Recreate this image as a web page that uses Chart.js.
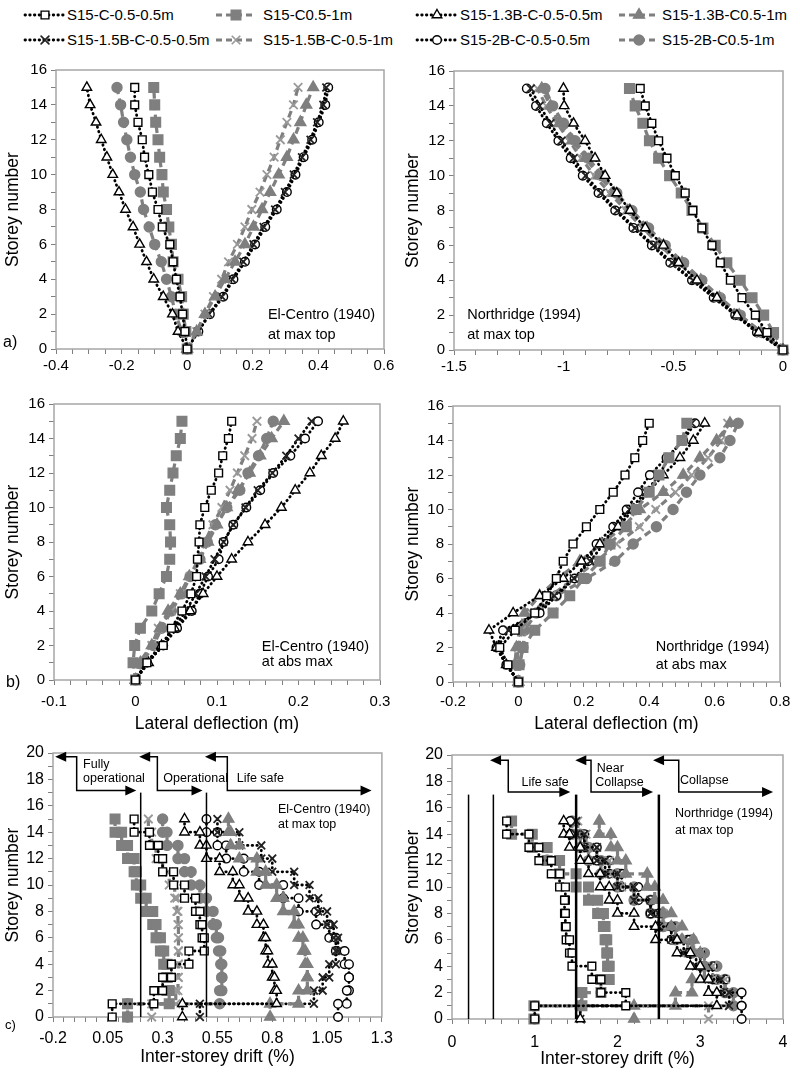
<!DOCTYPE html>
<html><head><meta charset="utf-8">
<script src="https://cdn.jsdelivr.net/npm/chart.js@4.4.1/dist/chart.umd.min.js"></script>
<style>
html,body{margin:0;padding:0;background:#fff;}
body{width:800px;height:1084px;position:relative;overflow:hidden;font-family:'Liberation Sans',Arial,sans-serif;}
canvas.pnl{position:absolute;}
.lgt{position:absolute;font-size:15px;color:#000;line-height:18px;white-space:nowrap;}
canvas.ic{position:absolute;}
</style></head><body>
<script>
// ---------- DATA ----------
const seriesNames = ['S15-C-0.5-0.5m','S15-C0.5-1m','S15-1.3B-C-0.5-0.5m','S15-1.3B-C0.5-1m',
                     'S15-1.5B-C-0.5-0.5m','S15-1.5B-C-0.5-1m','S15-2B-C-0.5-0.5m','S15-2B-C0.5-1m'];
const storeys = [0,1,2,3,4,5,6,7,8,9,10,11,12,13,14,15];
const driftStoreys = [1,2,3,4,5,6,7,8,9,10,11,12,13,14,15];

// a) El-Centro (1940) lateral deflection at max top (m), storey 0..15
const ecTop1 = [0,-0.007,-0.014,-0.022,-0.033,-0.043,-0.053,-0.076,-0.089,-0.106,-0.117,-0.130,-0.137,-0.150,-0.160,-0.160];
const ecTop2 = [0,-0.004,-0.012,-0.017,-0.028,-0.043,-0.048,-0.056,-0.063,-0.073,-0.077,-0.084,-0.089,-0.096,-0.099,-0.102];
const ecTop3 = [0,-0.028,-0.045,-0.073,-0.102,-0.124,-0.145,-0.165,-0.188,-0.208,-0.227,-0.245,-0.262,-0.278,-0.296,-0.306];
const ecTop4 = [0,0.029,0.054,0.085,0.115,0.146,0.176,0.202,0.228,0.253,0.279,0.304,0.324,0.345,0.363,0.384];
const ecTop5 = [0,0.033,0.066,0.106,0.137,0.171,0.202,0.233,0.268,0.298,0.325,0.350,0.376,0.396,0.415,0.424];
const ecTop6 = [0,0.029,0.054,0.080,0.105,0.126,0.153,0.176,0.197,0.222,0.243,0.265,0.284,0.304,0.324,0.338];
const ecTop7 = [0,0.034,0.069,0.110,0.141,0.176,0.207,0.238,0.273,0.304,0.330,0.355,0.381,0.401,0.421,0.430];
const ecTop8 = [0,-0.017,-0.035,-0.048,-0.063,-0.079,-0.099,-0.116,-0.133,-0.143,-0.160,-0.173,-0.184,-0.194,-0.203,-0.214];

// a) Northridge (1994) lateral deflection at max top (m)
const nrTop1 = [0,-0.073,-0.126,-0.187,-0.240,-0.286,-0.324,-0.370,-0.411,-0.446,-0.491,-0.529,-0.567,-0.598,-0.628,-0.651];
const nrTop2 = [0,-0.043,-0.088,-0.141,-0.195,-0.256,-0.309,-0.365,-0.415,-0.464,-0.517,-0.567,-0.609,-0.639,-0.674,-0.700];
const nrTop3 = [0,-0.111,-0.210,-0.301,-0.392,-0.476,-0.545,-0.628,-0.697,-0.758,-0.811,-0.857,-0.902,-0.955,-0.998,-1.001];
const nrTop4 = [0,-0.100,-0.200,-0.290,-0.375,-0.460,-0.545,-0.620,-0.700,-0.770,-0.840,-0.900,-0.960,-1.020,-1.060,-1.100];
const nrTop5 = [0,-0.110,-0.210,-0.310,-0.410,-0.505,-0.590,-0.675,-0.755,-0.830,-0.900,-0.955,-1.010,-1.060,-1.110,-1.150];
const nrTop6 = [0,-0.105,-0.205,-0.295,-0.385,-0.475,-0.560,-0.640,-0.715,-0.790,-0.860,-0.920,-0.975,-1.030,-1.080,-1.120];
const nrTop7 = [0,-0.119,-0.218,-0.316,-0.415,-0.514,-0.598,-0.682,-0.765,-0.841,-0.913,-0.968,-1.024,-1.077,-1.126,-1.168];
const nrTop8 = [0,-0.096,-0.195,-0.286,-0.370,-0.453,-0.537,-0.613,-0.689,-0.758,-0.826,-0.887,-0.948,-1.001,-1.050,-1.085];

// b) El-Centro (1940) lateral deflection at abs max (m)
const ecAbs1 = [0,0.014,0.034,0.044,0.057,0.068,0.075,0.076,0.078,0.079,0.085,0.093,0.102,0.107,0.114,0.118];
const ecAbs2 = [0,-0.003,-0.001,0.006,0.020,0.029,0.038,0.042,0.043,0.042,0.038,0.042,0.046,0.050,0.055,0.057];
const ecAbs3 = [0,0.016,0.032,0.048,0.067,0.083,0.100,0.118,0.138,0.159,0.179,0.196,0.214,0.228,0.245,0.255];
const ecAbs4 = [0,0.006,0.020,0.030,0.040,0.055,0.066,0.079,0.089,0.100,0.112,0.126,0.140,0.153,0.167,0.182];
const ecAbs5 = [0,0.013,0.031,0.046,0.062,0.074,0.086,0.097,0.108,0.120,0.135,0.150,0.168,0.185,0.200,0.216];
const ecAbs6 = [0,0.004,0.020,0.028,0.044,0.055,0.067,0.077,0.085,0.095,0.106,0.116,0.125,0.134,0.143,0.149];
const ecAbs7 = [0,0.014,0.034,0.051,0.069,0.079,0.089,0.102,0.108,0.120,0.136,0.153,0.169,0.190,0.208,0.224];
const ecAbs8 = [0,0.008,0.022,0.032,0.044,0.057,0.067,0.079,0.088,0.098,0.112,0.128,0.138,0.151,0.161,0.169];

// b) Northridge (1994) lateral deflection at abs max (m)
const nrAbs1 = [0,-0.032,-0.057,-0.010,0.050,0.086,0.116,0.137,0.167,0.208,0.249,0.290,0.326,0.356,0.380,0.400];
const nrAbs2 = [0,0.002,0.014,0.050,0.106,0.157,0.200,0.250,0.280,0.330,0.360,0.400,0.430,0.460,0.500,0.515];
const nrAbs3 = [0,-0.037,-0.067,-0.090,-0.016,0.065,0.137,0.193,0.249,0.305,0.351,0.397,0.443,0.494,0.535,0.570];
const nrAbs4 = [0,-0.011,-0.006,0.004,0.019,0.065,0.121,0.188,0.254,0.320,0.371,0.443,0.504,0.555,0.606,0.647];
const nrAbs5 = [0,-0.035,-0.065,-0.030,0.050,0.110,0.170,0.220,0.260,0.300,0.340,0.390,0.430,0.460,0.500,0.530];
const nrAbs6 = [0,-0.005,0.000,0.010,0.040,0.100,0.170,0.240,0.300,0.370,0.420,0.480,0.530,0.580,0.620,0.640];
const nrAbs7 = [0,-0.037,-0.067,-0.047,0.065,0.116,0.172,0.213,0.239,0.290,0.331,0.366,0.402,0.453,0.504,0.540];
const nrAbs8 = [0,0.004,0.014,0.019,0.055,0.116,0.208,0.295,0.351,0.422,0.473,0.514,0.555,0.616,0.647,0.672];

// c) El-Centro (1940) inter-storey drift at max top (%), storey 1..15
const ecDrift1 = [0.07,0.26,0.30,0.34,0.42,0.49,0.48,0.47,0.45,0.40,0.35,0.30,0.28,0.24,0.17];
const ecDrift2 = [0.14,0.33,0.32,0.32,0.305,0.29,0.27,0.255,0.225,0.20,0.18,0.17,0.14,0.113,0.083];
const ecDrift3 = [0.39,0.82,0.81,0.80,0.78,0.77,0.76,0.73,0.69,0.65,0.62,0.56,0.50,0.47,0.40];
const ecDrift4 = [0.79,0.92,0.96,0.96,0.95,0.94,0.92,0.90,0.85,0.82,0.77,0.73,0.65,0.61,0.60];
const ecDrift5 = [0.47,0.99,1.03,1.06,1.09,1.10,1.08,1.05,1.01,0.97,0.90,0.80,0.75,0.65,0.55];
const ecDrift6 = [0.25,0.36,0.37,0.372,0.372,0.372,0.372,0.37,0.365,0.355,0.33,0.30,0.27,0.25,0.235];
const ecDrift7 = [1.10,1.14,1.15,1.15,1.13,1.09,1.06,1.00,0.92,0.85,0.74,0.67,0.59,0.55,0.50];
const ecDrift8 = [0.14,0.56,0.57,0.57,0.565,0.555,0.545,0.53,0.50,0.47,0.43,0.40,0.37,0.32,0.30];

// c) Northridge (1994) inter-storey drift at max top (%)
const nrDrift1 = [1.00,2.10,1.80,1.69,1.45,1.42,1.38,1.37,1.36,1.37,1.30,1.20,1.05,0.93,0.66];
const nrDrift2 = [0.99,1.57,1.80,1.90,1.88,1.87,1.85,1.83,1.76,1.65,1.50,1.30,1.15,0.97,0.72];
const nrDrift3 = [1.55,3.20,3.10,3.00,2.88,2.72,2.46,2.20,2.00,1.90,1.79,1.65,1.55,1.42,1.35];
const nrDrift4 = [2.20,2.70,2.90,3.05,3.00,2.92,2.78,2.65,2.55,2.45,2.36,2.10,2.00,1.92,1.78];
const nrDrift5 = [1.55,3.35,3.25,3.10,2.95,2.80,2.65,2.50,2.40,2.20,2.00,1.85,1.75,1.60,1.50];
const nrDrift6 = [3.10,3.35,3.30,3.15,3.00,2.85,2.70,2.55,2.40,2.20,2.05,1.90,1.75,1.62,1.52];
const nrDrift7 = [3.50,3.50,3.30,3.15,3.00,2.85,2.65,2.50,2.40,2.25,2.05,1.90,1.75,1.60,1.43];
const nrDrift8 = [1.00,3.40,3.30,3.20,3.05,2.90,2.70,2.55,2.40,2.20,2.00,1.80,1.65,1.55,1.45];

// tick labels
const ecTopXTicks = [-0.4,-0.2,0,0.2,0.4,0.6];
const nrTopXTicks = [-1.5,-1,-0.5,0];
const ecAbsXTicks = [-0.1,0,0.1,0.2,0.3];
const nrAbsXTicks = [-0.2,0,0.2,0.4,0.6,0.8];
const ecDriftXTicks = [-0.2,0.05,0.3,0.55,0.8,1.05,1.3];
const nrDriftXTicks = [0,1,2,3,4];
const storeyTicks16 = [0,2,4,6,8,10,12,14,16];
const storeyTicks20 = [0,2,4,6,8,10,12,14,16,18,20];

// performance limits (drift %)
const ecLimits = [0.2,0.5];
const nrLimits = [0.2,0.5,1.5,2.5];

// ---------- STYLES ----------
const GREY = '#7f7f7f';
const styles = [
  {ps:'rect',     r:5.5, bg:'#fff', bc:'#000', dot:true},
  {ps:'rect',     r:6.8, bg:GREY,   bc:GREY,   dot:false},
  {ps:'triangle', r:5.5, bg:'#fff', bc:'#000', dot:true},
  {ps:'triangle', r:6.3, bg:GREY,   bc:GREY,   dot:false},
  {ps:'crossRot', r:5.5, bg:'#222', bc:'#222', dot:true},
  {ps:'crossRot', r:6,   bg:'#999', bc:'#999', dot:false},
  {ps:'circle',   r:4.3, bg:'#fff', bc:'#000', dot:true},
  {ps:'circle',   r:5,   bg:GREY,   bc:GREY,   dot:false}
];
const FONT = "'Liberation Sans', Arial, sans-serif";
const DOT = {w:2.8, dash:[0.5,4.2], col:'#000'};
const DASH = {w:3.2, dash:[7,4.5], col:GREY};

// ---------- LEGEND ----------
const legIconX = [23,214,415,617], legTextX = [67,263,460,662], legRowY = [15,40];
function drawMarker(c, st, x, y){
  c.save(); c.fillStyle = st.bg; c.strokeStyle = st.bc; c.lineWidth = 1.4; c.setLineDash([]);
  const r = st.r;
  c.beginPath();
  if (st.ps==='rect'){ const s=Math.SQRT1_2*r; c.rect(x-s,y-s,2*s,2*s); c.fill(); c.stroke(); }
  else if (st.ps==='triangle'){ c.moveTo(x, y-r); c.lineTo(x+r*0.87, y+r*0.5); c.lineTo(x-r*0.87,y+r*0.5); c.closePath(); c.fill(); c.stroke(); }
  else if (st.ps==='circle'){ c.arc(x,y,r,0,Math.PI*2); c.fill(); c.stroke(); }
  else { const s=Math.SQRT1_2*r; c.lineWidth=1.7; c.moveTo(x-s,y-s); c.lineTo(x+s,y+s); c.moveTo(x+s,y-s); c.lineTo(x-s,y+s); c.stroke(); }
  c.restore();
}
seriesNames.forEach((name,i)=>{
  const col = i%4, row = Math.floor(i/4), st = styles[i], ln = st.dot ? DOT : DASH;
  const cv = document.createElement('canvas'); cv.className='ic'; cv.width=44; cv.height=16;
  cv.style.left = legIconX[col]+'px'; cv.style.top = (legRowY[row]-8)+'px';
  document.body.appendChild(cv);
  const c = cv.getContext('2d');
  c.strokeStyle = ln.col; c.lineWidth = ln.w;
  c.setLineDash(st.dot ? [0.5,4.2] : [6,4]); c.lineCap = st.dot ? 'round' : 'butt';
  c.beginPath(); c.moveTo(2,8); c.lineTo(42,8); c.stroke();
  drawMarker(c, st, 22, 8);
  const t = document.createElement('div'); t.className='lgt'; t.textContent = name;
  t.style.left = legTextX[col]+'px'; t.style.top = (legRowY[row]-9)+'px';
  document.body.appendChild(t);
});

// ---------- PANELS ----------
function profilePts(arr){ return storeys.map((s,i)=>({x:arr[i], y:s})); }
function driftPts(arr){ const p=[]; for(let i=arr.length-1;i>=0;i--){ const s=driftStoreys[i]; p.push({x:arr[i],y:s}); p.push({x:arr[i],y:s-1}); } return p; }

const panels = [
  {left:0,   top:50,  w:400, h:329, yw:56, pt:20, pr:16, xh:30, xPad:3,
   x:{min:-0.4,max:0.6,minor:0.05,labels:ecTopXTicks}, y:{min:0,max:16,minor:1,labels:storeyTicks16},
   series:[ecTop1,ecTop2,ecTop3,ecTop4,ecTop5,ecTop6,ecTop7,ecTop8], drift:false, xTitle:null, tickFont:15,
   tag:{t:'a)',x:3,y:293,f:16},
   texts:[{x:0.246,y:1.95,t:'El-Centro (1940)',f:14.5},{x:0.246,y:0.8,t:'at max top',f:14.5}]},
  {left:400, top:50,  w:400, h:330, yw:54, pt:21, pr:17, xh:30, xPad:3,
   x:{min:-1.5,max:0,minor:0.1,labels:nrTopXTicks}, y:{min:0,max:16,minor:1,labels:storeyTicks16},
   series:[nrTop1,nrTop2,nrTop3,nrTop4,nrTop5,nrTop6,nrTop7,nrTop8], drift:false, xTitle:null, tickFont:15,
   texts:[{x:-1.44,y:2.0,t:'Northridge (1994)',f:14.5},{x:-1.44,y:0.86,t:'at max top',f:14.5}]},
  {left:0,   top:380, w:400, h:359, yw:54, pt:24, pr:20, xh:59, xPad:8,
   x:{min:-0.1,max:0.3,minor:0.02,labels:ecAbsXTicks}, y:{min:0,max:16,minor:1,labels:storeyTicks16},
   series:[ecAbs1,ecAbs2,ecAbs3,ecAbs4,ecAbs5,ecAbs6,ecAbs7,ecAbs8], drift:false, xTitle:'Lateral deflection (m)', tickFont:15,
   tag:{t:'b)',x:6,y:303,f:16},
   texts:[{x:0.155,y:1.9,t:'El-Centro (1940)',f:14.5},{x:0.155,y:1.05,t:'at abs max',f:14.5}]},
  {left:400, top:380, w:400, h:359, yw:53, pt:26, pr:20, xh:57, xPad:6,
   x:{min:-0.2,max:0.8,minor:0.04,labels:nrAbsXTicks}, y:{min:0,max:16,minor:1,labels:storeyTicks16},
   series:[nrAbs1,nrAbs2,nrAbs3,nrAbs4,nrAbs5,nrAbs6,nrAbs7,nrAbs8], drift:false, xTitle:'Lateral deflection (m)', tickFont:15,
   texts:[{x:0.42,y:2.03,t:'Northridge (1994)',f:14.5},{x:0.42,y:0.99,t:'at abs max',f:14.5}]},
  {left:0,   top:735, w:400, h:337, yw:53, pt:18, pr:18, xh:55, xPad:7,
   x:{min:-0.2,max:1.3,minor:0.05,labels:ecDriftXTicks}, y:{min:0,max:20,minor:1,labels:storeyTicks20},
   series:[ecDrift1,ecDrift2,ecDrift3,ecDrift4,ecDrift5,ecDrift6,ecDrift7,ecDrift8], drift:true, xTitle:'Inter-storey drift (%)', tickFont:16,
   tag:{t:'c)',x:5,y:290,f:13},
   vlines:[{x:ecLimits[0],y1:17,w:1.5},{x:ecLimits[1],y1:17,w:1.5}],
   arrows:[{xl:-0.19,xv:-0.092,xr:0.18,yt:19.72,yb:17.15},{xl:0.193,xv:0.276,xr:0.482,yt:19.72,yb:17.15},{xl:0.493,xv:0.595,xr:1.253,yt:19.72,yb:17.15}],
   texts:[{x:-0.063,y:19.09,t:'Fully',f:12.5},{x:-0.063,y:18.08,t:'operational',f:12.5},
          {x:0.303,y:18.08,t:'Operational',f:12.5},{x:0.638,y:18.08,t:'Life safe',f:12.5},
          {x:0.826,y:15.68,t:'El-Centro (1940)',f:12.5},{x:0.826,y:14.55,t:'at max top',f:12.5}]},
  {left:400, top:735, w:400, h:339, yw:52, pt:20, pr:17, xh:55, xPad:9,
   x:{min:0,max:4,minor:0.2,labels:nrDriftXTicks}, y:{min:0,max:20,minor:1,labels:storeyTicks20},
   series:[nrDrift1,nrDrift2,nrDrift3,nrDrift4,nrDrift5,nrDrift6,nrDrift7,nrDrift8], drift:true, xTitle:'Inter-storey drift (%)', tickFont:16,
   vlines:[{x:nrLimits[0],y1:17,w:1.5},{x:nrLimits[1],y1:17,w:1.5},{x:nrLimits[2],y1:17,w:2.5},{x:nrLimits[3],y1:17,w:2.5}],
   arrows:[{xl:0.46,xv:0.68,xr:1.43,yt:19.6,yb:17.2},{xl:1.49,xv:1.68,xr:2.43,yt:19.6,yb:17.2},{xl:2.43,xv:2.74,xr:3.88,yt:19.6,yb:17.2}],
   texts:[{x:0.84,y:17.9,t:'Life safe',f:12.5},{x:1.75,y:19.0,t:'Near',f:12.5},{x:1.73,y:17.9,t:'Collapse',f:12.5},
          {x:2.755,y:18.1,t:'Collapse',f:12.5},{x:2.695,y:15.55,t:'Northridge (1994)',f:12.5},{x:2.695,y:14.24,t:'at max top',f:12.5}]}
];

function axisOpts(cfg, pos, P){
  const isY = pos==='left';
  const o = {
    type:'linear', position:pos, min:cfg.min, max:cfg.max,
    afterBuildTicks: sc => { const n=Math.round((cfg.max-cfg.min)/cfg.minor); const t=[];
      for(let i=0;i<=n;i++) t.push({value:+(cfg.min+i*cfg.minor).toFixed(6)}); sc.ticks=t; },
    afterFit: sc => { if (isY) sc.width = P.yw; else sc.height = P.xh; },
    ticks:{autoSkip:false, maxRotation:0, minRotation:0, color:'#000',
      padding: isY ? 4 : P.xPad, font:{family:FONT,size:P.tickFont},
      callback: v => { const m = cfg.labels.find(l=>Math.abs(l-v)<1e-6); return m===undefined ? '' : String(m); }},
    grid:{display:true, drawOnChartArea:false, drawTicks:true, tickLength:5, tickColor:'#7f7f7f', tickWidth:1},
    border:{display:false}
  };
  if (isY) o.title = {display:true, text:'Storey number', color:'#000', font:{family:FONT,size:17.5}, padding:{top:3,bottom:0}};
  else if (P.xTitle) o.title = {display:true, text:P.xTitle, color:'#000', font:{family:FONT,size:17.5}, padding:{top:0,bottom:4}};
  return o;
}

function arrowHead(ctx, x, y, dir){
  ctx.beginPath(); ctx.moveTo(x,y); ctx.lineTo(x-dir*11, y-5); ctx.lineTo(x-dir*11, y+5); ctx.closePath(); ctx.fill();
}

panels.forEach((P, pi)=>{
  const cv = document.createElement('canvas'); cv.className='pnl';
  cv.width = P.w; cv.height = P.h; cv.style.left = P.left+'px'; cv.style.top = P.top+'px';
  cv.style.width = P.w+'px'; cv.style.height = P.h+'px';
  document.body.appendChild(cv);
  const datasets = P.series.map((arr,i)=>{ const st = styles[i], ln = st.dot ? DOT : DASH; return {
    label: seriesNames[i], data: P.drift ? driftPts(arr) : profilePts(arr), showLine:true,
    borderColor: ln.col, borderWidth: ln.w, borderDash: ln.dash, borderCapStyle: st.dot ? 'round' : 'butt',
    pointStyle: st.ps, pointRadius: st.r, pointBackgroundColor: st.bg, pointBorderColor: st.bc,
    pointBorderWidth: st.ps==='crossRot' ? 1.8 : 1.4, clip:false, fill:false, tension:0 }; });
  const notes = {
    id:'notes'+pi,
    beforeDatasetsDraw(chart){ const {ctx, chartArea:a} = chart; ctx.save(); ctx.strokeStyle='#a6a6a6'; ctx.lineWidth=1.5;
      ctx.strokeRect(a.left, a.top, a.right-a.left, a.bottom-a.top); ctx.restore(); },
    afterDatasetsDraw(chart){
      const {ctx} = chart, xs = chart.scales.x, ys = chart.scales.y;
      ctx.save(); ctx.fillStyle='#000'; ctx.strokeStyle='#000';
      (P.vlines||[]).forEach(v=>{ ctx.lineWidth=v.w; ctx.beginPath(); const px=xs.getPixelForValue(v.x);
        ctx.moveTo(px, ys.getPixelForValue(0)); ctx.lineTo(px, ys.getPixelForValue(v.y1)); ctx.stroke(); });
      (P.arrows||[]).forEach(a=>{ ctx.lineWidth=1.5; const xl=xs.getPixelForValue(a.xl), xv=xs.getPixelForValue(a.xv), xr=xs.getPixelForValue(a.xr);
        const yt=ys.getPixelForValue(a.yt), yb=ys.getPixelForValue(a.yb);
        ctx.beginPath(); ctx.moveTo(xl+8,yt); ctx.lineTo(xv,yt); ctx.lineTo(xv,yb); ctx.lineTo(xr-8,yb); ctx.stroke();
        arrowHead(ctx, xl, yt, -1); arrowHead(ctx, xr, yb, 1); });
      ctx.textBaseline='middle'; ctx.textAlign='left';
      (P.texts||[]).forEach(t=>{ ctx.font = t.f+'px '+FONT; ctx.fillText(t.t, xs.getPixelForValue(t.x), ys.getPixelForValue(t.y)); });
      if (P.tag){ ctx.font = P.tag.f+'px '+FONT; ctx.fillText(P.tag.t, P.tag.x, P.tag.y); }
      ctx.restore();
    }
  };
  new Chart(cv, {
    type:'scatter', data:{datasets},
    options:{ responsive:false, animation:false, events:[], devicePixelRatio:1,
      layout:{padding:{left:0, top:P.pt, right:P.pr, bottom:0}},
      plugins:{legend:{display:false}, tooltip:{enabled:false}},
      scales:{ x: axisOpts(P.x,'bottom',P), y: axisOpts(P.y,'left',P) } },
    plugins:[notes]
  });
});
</script>
</body></html>
